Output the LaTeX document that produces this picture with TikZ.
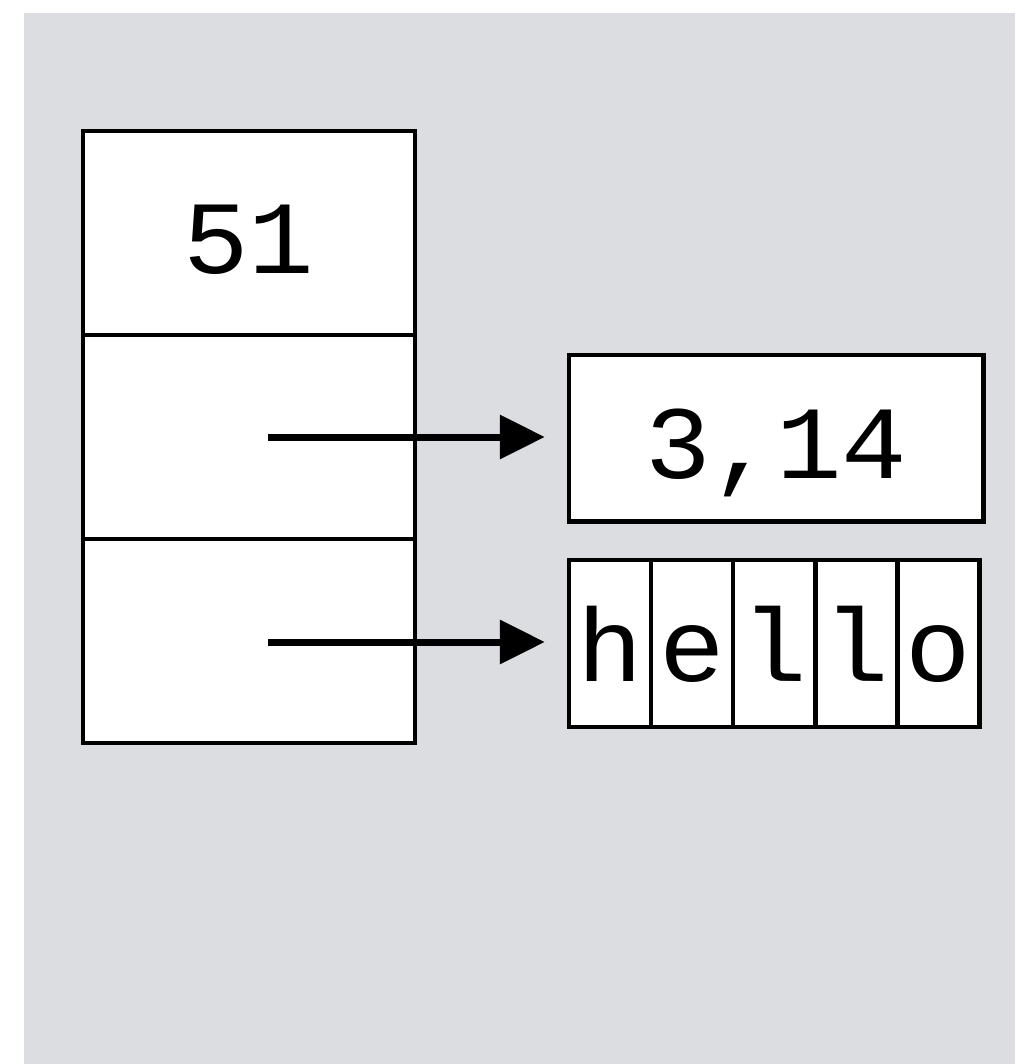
\documentclass[tikz,border=0pt]{standalone}
\usepackage{fontspec}
\newfontfamily\monofont[FakeStretch=1.05]{Liberation Mono}
\usetikzlibrary{arrows.meta}
\definecolor{bggray}{RGB}{220,221,224}
\begin{document}
\begin{tikzpicture}[x=1pt,y=-1pt,
  cellbox/.style={draw=black, line width=4.5pt, fill=white, inner sep=0pt,
    font=\monofont\fontsize{104}{104}\selectfont, text height=81pt, text depth=0pt},
  colcell/.style={cellbox, minimum width=332pt, minimum height=204pt},
  charcell/.style={cellbox, minimum width=82.1pt, minimum height=167pt, text height=76.4pt},
  ptr/.style={line width=7pt, -{Triangle[length=45pt,width=43pt]}, shorten >=22pt}]
\useasboundingbox (0,0) rectangle (1015,1064);
\fill[bggray] (24,13) rectangle (1015,1064);
\node[colcell] (c1) at (249,233) {51};
\node[colcell] (c2) at (249,437) {};
\node[colcell] (c3) at (249,641) {};
\node[cellbox, minimum width=414.5pt, minimum height=166.5pt] (v1) at (776.25,438.25) {3,14};
\node[charcell] (h1) at (610.05,643.5) {h};
\node[charcell] (h2) at (692.15,643.5) {e};
\node[charcell] (h3) at (774.25,643.5) {l};
\node[charcell] (h4) at (856.35,643.5) {l};
\node[charcell] (h5) at (938.45,643.5) {o};
\coordinate (p1) at (268,437);
\coordinate (p2) at (268,642);
\draw[ptr] (p1) -- (p1 -| v1.west);
\draw[ptr] (p2) -- (p2 -| h1.west);
\end{tikzpicture}
\end{document}
